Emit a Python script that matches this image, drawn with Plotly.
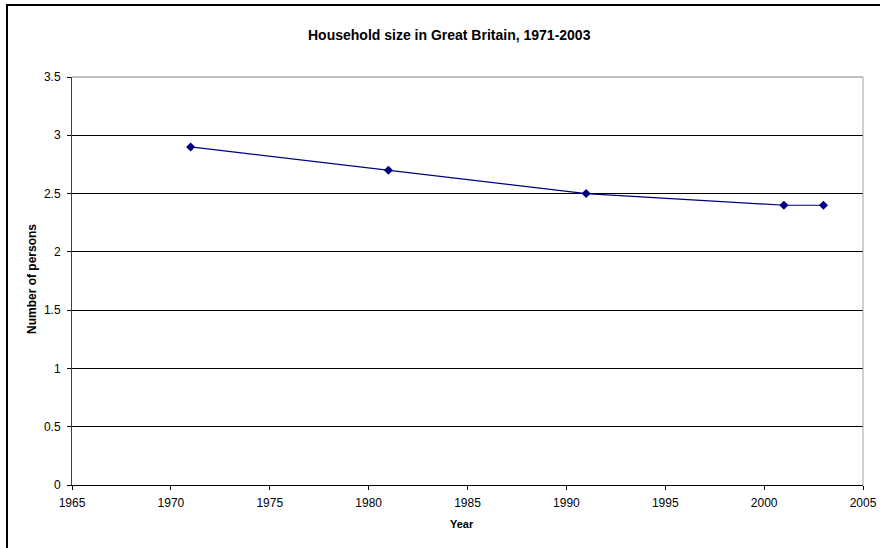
import plotly.graph_objects as go

# Average household size in Great Britain
years = [1971, 1981, 1991, 2001, 2003]
persons = [2.9, 2.7, 2.5, 2.4, 2.4]

x_ticks = [1965, 1970, 1975, 1980, 1985, 1990, 1995, 2000, 2005]
y_ticks = [0, 0.5, 1, 1.5, 2, 2.5, 3, 3.5]

FONT = "Liberation Sans, Arial, sans-serif"

W, H = 880, 548
ML, MR, MT, MB = 72, 17, 77, 63
PW = W - ML - MR
PH = H - MT - MB


def px_x(p):
    return (p - ML) / PW


def px_y(p):
    return (H - MB - p) / PH


fig = go.Figure()
fig.add_trace(go.Scatter(
    x=years, y=persons,
    mode="lines+markers",
    line=dict(color="#000080", width=1.2),
    marker=dict(symbol="diamond", size=7, color="#000080"),
    showlegend=False,
    cliponaxis=False,
))

fig.update_layout(
    width=W, height=H,
    margin=dict(l=ML, r=MR, t=MT, b=MB),
    paper_bgcolor="white",
    plot_bgcolor="white",
    font=dict(family=FONT, size=12, color="black"),
    xaxis=dict(
        range=[1965, 2005],
        tickvals=x_ticks,
        ticks="outside", ticklen=4, tickcolor="black",
        showline=True, linecolor="black", linewidth=1,
        showgrid=False, zeroline=False,
        tickfont=dict(size=12),
        ticklabelstandoff=3,
        automargin=False,
    ),
    yaxis=dict(
        range=[0, 3.5],
        tickvals=y_ticks,
        ticks="outside", ticklen=4, tickcolor="black",
        showline=True, linecolor="#404040", linewidth=1,
        showgrid=True, gridcolor="black", gridwidth=1,
        zeroline=False,
        tickfont=dict(size=12),
        ticklabelstandoff=4,
        automargin=False,
    ),
    annotations=[
        dict(text="<b>Household size in Great Britain, 1971-2003</b>",
             xref="paper", yref="paper", x=px_x(449), y=px_y(35),
             xanchor="center", yanchor="middle", showarrow=False,
             font=dict(size=14, family=FONT)),
        dict(text="<b>Number of persons</b>",
             xref="paper", yref="paper", x=px_x(32), y=px_y(279),
             xanchor="center", yanchor="middle", showarrow=False,
             textangle=-90, font=dict(size=12, family=FONT)),
        dict(text="<b>Year</b>",
             xref="paper", yref="paper", x=px_x(462), y=px_y(524),
             xanchor="center", yanchor="middle", showarrow=False,
             font=dict(size=11, family=FONT)),
    ],
    shapes=[
        # gray frame on the top and right of the plot area
        dict(type="line", xref="paper", yref="paper", x0=0, x1=1, y0=1, y1=1,
             line=dict(color="#808080", width=1)),
        dict(type="line", xref="paper", yref="paper", x0=1, x1=1, y0=0, y1=1,
             line=dict(color="#a0a0a0", width=1)),
        # outer chart border: only its top and left edges fall inside the page
        dict(type="line", xref="paper", yref="paper",
             x0=px_x(6), x1=px_x(900), y0=px_y(5), y1=px_y(5),
             line=dict(color="black", width=2), layer="above"),
        dict(type="line", xref="paper", yref="paper",
             x0=px_x(7), x1=px_x(7), y0=px_y(560), y1=px_y(4),
             line=dict(color="black", width=2), layer="above"),
    ],
)

fig.write_html("out.html")
